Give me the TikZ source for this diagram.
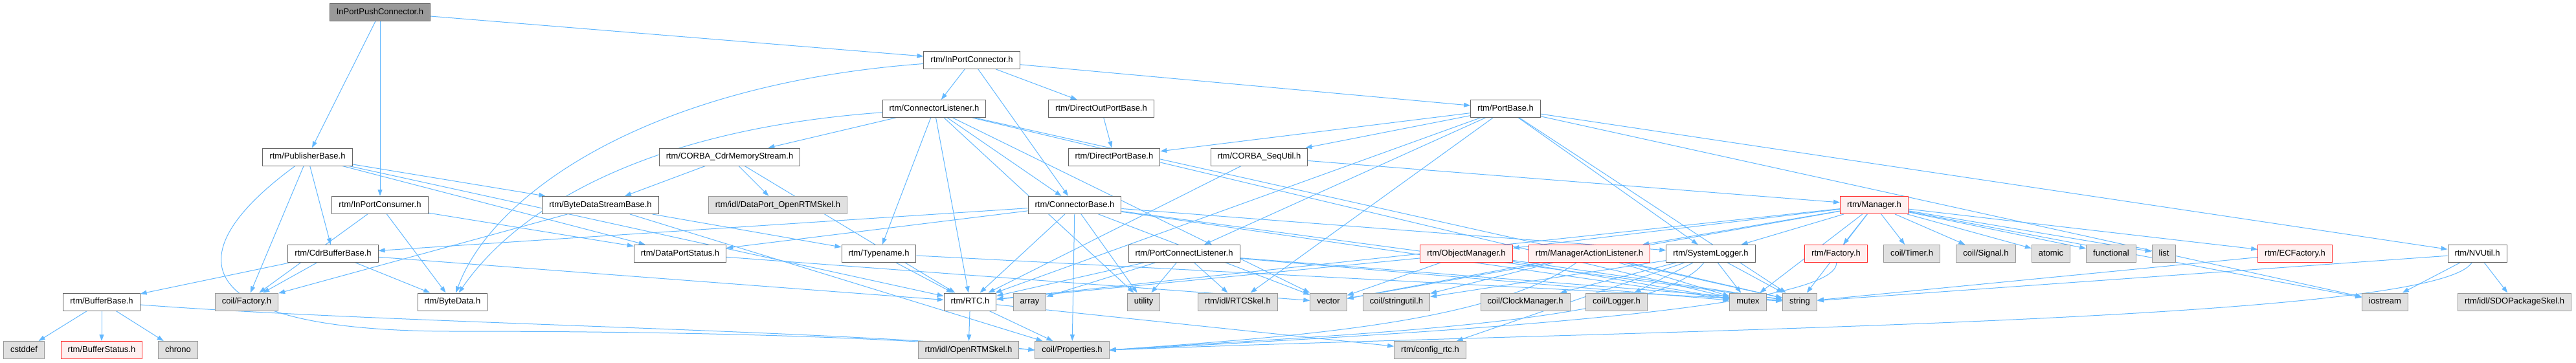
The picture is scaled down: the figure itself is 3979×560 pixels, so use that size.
\documentclass[tikz,border=0pt]{standalone}
\usepackage{fontspec}
\setmainfont{Liberation Sans}
\usepackage{tikz}
\usetikzlibrary{arrows.meta}

\definecolor{edgeblue}{HTML}{63B8FF}
\definecolor{rootfill}{HTML}{999999}
\definecolor{boxline}{HTML}{666666}
\definecolor{sysfill}{HTML}{E0E0E0}
\definecolor{sysline}{HTML}{999999}
\definecolor{cutfill}{HTML}{FFF0F0}
\definecolor{cutline}{HTML}{FF3030}

\pgfdeclarelayer{background}
\pgfsetlayers{background,main}

\tikzset{
	hfile/.style={draw=boxline, fill=white, line width=1pt, font=\fontsize{13}{15}\selectfont,
		minimum height=27pt, inner xsep=10.5pt, inner ysep=0pt, text height=9.5pt, text depth=2.7pt},
	rootfile/.style={hfile, fill=rootfill},
	sysfile/.style={hfile, fill=sysfill, draw=sysline},
	cutfile/.style={hfile, fill=cutfill, draw=cutline},
	dep/.style={draw=edgeblue, line width=1pt, -{Triangle[length=10pt,width=7pt]}}
}

\begin{document}
\begin{tikzpicture}[x=1pt, y=-1pt]
			\useasboundingbox (0,0) rectangle (3979,560);
			\node[rootfile] (ippc) at (587,18.7) {InPortPushConnector.h};
			\node[hfile] (ipc) at (1501,93) {rtm/InPortConnector.h};
			\node[hfile] (conlis) at (1443,168) {rtm/ConnectorListener.h};
			\node[hfile] (dopb) at (1701,168) {rtm/DirectOutPortBase.h};
			\node[hfile] (portbase) at (2325.5,168) {rtm/PortBase.h};
			\node[hfile] (pub) at (475,242.5) {rtm/PublisherBase.h};
			\node[hfile] (cdrms) at (1127,242.5) {rtm/CORBA\_CdrMemoryStream.h};
			\node[hfile] (dpb) at (1721,242.5) {rtm/DirectPortBase.h};
			\node[hfile] (sequtil) at (1945,242.5) {rtm/CORBA\_SeqUtil.h};
			\node[hfile] (ipcons) at (587,317) {rtm/InPortConsumer.h};
			\node[hfile] (bdsb) at (927.5,317) {rtm/ByteDataStreamBase.h};
			\node[sysfile] (dpskel) at (1201.5,317) {rtm/idl/DataPort\_OpenRTMSkel.h};
			\node[hfile] (conbase) at (1660,317) {rtm/ConnectorBase.h};
			\node[cutfile] (mgr) at (2895,317) {rtm/Manager.h};
			\node[hfile] (cdrbuf) at (514.5,392) {rtm/CdrBufferBase.h};
			\node[hfile] (dpstat) at (1050.5,392) {rtm/DataPortStatus.h};
			\node[hfile] (typename) at (1357.5,392) {rtm/Typename.h};
			\node[hfile] (pcl) at (1829,392) {rtm/PortConnectListener.h};
			\node[cutfile] (objmgr) at (2265,392) {rtm/ObjectManager.h};
			\node[cutfile] (mal) at (2455,392) {rtm/ManagerActionListener.h};
			\node[hfile] (syslog) at (2642.5,392) {rtm/SystemLogger.h};
			\node[cutfile] (factory) at (2836,392) {rtm/Factory.h};
			\node[sysfile] (timer) at (2953,392) {coil/Timer.h};
			\node[sysfile] (signal) at (3067.5,392) {coil/Signal.h};
			\node[sysfile] (atomic) at (3168,392) {atomic};
			\node[sysfile] (functional) at (3261,392) {functional};
			\node[sysfile] (list) at (3342.5,392) {list};
			\node[cutfile] (ecfactory) at (3545,392) {rtm/ECFactory.h};
			\node[hfile] (nvutil) at (3826.5,392) {rtm/NVUtil.h};
			\node[hfile] (bufbase) at (157,466.5) {rtm/BufferBase.h};
			\node[sysfile] (cfactory) at (381,466.5) {coil/Factory.h};
			\node[hfile] (bytedata) at (699,466.5) {rtm/ByteData.h};
			\node[hfile] (rtc) at (1498.5,466.5) {rtm/RTC.h};
			\node[sysfile] (array) at (1590.5,466.5) {array};
			\node[sysfile] (utility) at (1766.6,466.5) {utility};
			\node[sysfile] (rtcskel) at (1912,466.5) {rtm/idl/RTCSkel.h};
			\node[sysfile] (vector) at (2052,466.5) {vector};
			\node[sysfile] (stringutil) at (2157,466.5) {coil/stringutil.h};
			\node[sysfile] (clockmgr) at (2356,466.5) {coil/ClockManager.h};
			\node[sysfile] (logger) at (2497,466.5) {coil/Logger.h};
			\node[sysfile] (mutex) at (2700,466.5) {mutex};
			\node[sysfile] (string) at (2780,466.5) {string};
			\node[sysfile] (iostream) at (3684,466.5) {iostream};
			\node[sysfile] (sdoskel) at (3884,466.5) {rtm/idl/SDOPackageSkel.h};
			\node[sysfile] (cstddef) at (37,541) {cstddef};
			\node[cutfile] (bufstat) at (157,541) {rtm/BufferStatus.h};
			\node[sysfile] (chrono) at (275,541) {chrono};
			\node[sysfile] (ortmskel) at (1496,541) {rtm/idl/OpenRTMSkel.h};
			\node[sysfile] (props) at (1656,541) {coil/Properties.h};
			\node[sysfile] (configrtc) at (2209,541) {rtm/config\_rtc.h};
			\begin{pgfonlayer}{background}
			\path (ippc) edge[dep] (ipc) edge[dep] (ipcons) edge[dep] (pub);
			\path (ipc) edge[dep] (conlis) edge[dep] (dopb) edge[dep] (conbase)
				edge[dep] (portbase);
			\draw[dep] (ipc) .. controls (1000,130) and (760,300) .. (bytedata);
			\draw[dep] (conlis) .. controls (1000,200) and (800,320) .. (bytedata);
			\path (conlis) edge[dep] (cdrms) edge[dep] (typename)
				edge[dep] (rtc) edge[dep] (conbase) edge[dep] (utility)
				edge[dep] (vector) edge[dep] (mutex) edge[dep] (string);
			\path (dopb) edge[dep] (dpb);
			\path (portbase) edge[dep] (dpb) edge[dep] (sequtil) edge[dep] (rtc)
				edge[dep] (pcl) edge[dep] (rtcskel) edge[dep] (syslog)
				edge[dep] (nvutil) edge[dep] (iostream) edge[dep] (string);
			\path (pub) edge[dep] (cfactory) edge[dep] (cdrbuf)
				edge[dep] (rtc) edge[dep] (dpstat) edge[dep] (bdsb);
			\draw[dep] (pub) .. controls (260,400) and (300,512) .. (700,512)
				.. controls (1200,512) and (1450,528) .. (props.west);
			\path (ipcons) edge[dep] (bytedata) edge[dep] (cfactory) edge[dep] (dpstat);
			\path (cdrbuf) edge[dep] (bufbase) edge[dep] (cfactory) edge[dep] (bytedata)
				edge[dep] (rtc);
			\path (bufbase) edge[dep] (cstddef) edge[dep] (bufstat) edge[dep] (chrono);
			\draw[dep] (bufbase) .. controls (600,500) and (1300,510) .. (props.west);
			\path (bdsb) edge[dep] (cfactory) edge[dep] (typename) edge[dep] (props);
			\path (cdrms) edge[dep] (bdsb) edge[dep] (dpskel) edge[dep] (rtc);
			\path (dpstat) edge[dep] (vector);
			\path (typename) edge[dep] (rtc) edge[dep] (string);
			\path (conbase) edge[dep] (cdrbuf) edge[dep] (dpstat) edge[dep] (rtc)
				edge[dep] (props) edge[dep] (utility) edge[dep] (vector)
				edge[dep] (string) edge[dep] (mutex) edge[dep] (syslog);
			\path (pcl) edge[dep] (rtc) edge[dep] (array) edge[dep] (utility)
				edge[dep] (rtcskel) edge[dep] (mutex) edge[dep] (string);
			\path (rtc) edge[dep] (ortmskel) edge[dep] (props) edge[dep] (configrtc);
			\path (sequtil) edge[dep] (rtc) edge[dep] (mgr);
			\path (mgr) edge[dep] (objmgr) edge[dep] (mal) edge[dep] (syslog)
				edge[dep] (factory) edge[dep] (timer) edge[dep] (signal)
				edge[dep] (atomic) edge[dep] (functional) edge[dep] (list)
				edge[dep] (ecfactory) edge[dep] (vector) edge[dep] (rtc)
				edge[dep] (mutex) edge[dep] (string) edge[dep] (iostream);
			\path (objmgr) edge[dep] (rtc) edge[dep] (vector) edge[dep] (mutex)
				edge[dep] (string);
			\path (mal) edge[dep] (stringutil) edge[dep] (vector) edge[dep] (mutex)
				edge[dep] (string);
			\draw[dep] (mal) .. controls (2300,500) and (2000,520) .. (props.east);
			\path (syslog) edge[dep] (stringutil) edge[dep] (clockmgr) edge[dep] (logger)
				edge[dep] (mutex) edge[dep] (string) edge[dep] (configrtc);
			\draw[dep] (syslog) .. controls (2560,500) and (2100,515) .. (props.east);
			\draw[dep] (factory) .. controls (2840,480) and (2200,515) .. (props.east);
			\path (ecfactory) edge[dep] (string);
			\path (nvutil) edge[dep] (iostream) edge[dep] (sdoskel) edge[dep] (string);
			\draw[dep] (nvutil) .. controls (3760,500) and (2500,510) .. (props.east);
			\end{pgfonlayer}
			\end{tikzpicture}
\end{document}
